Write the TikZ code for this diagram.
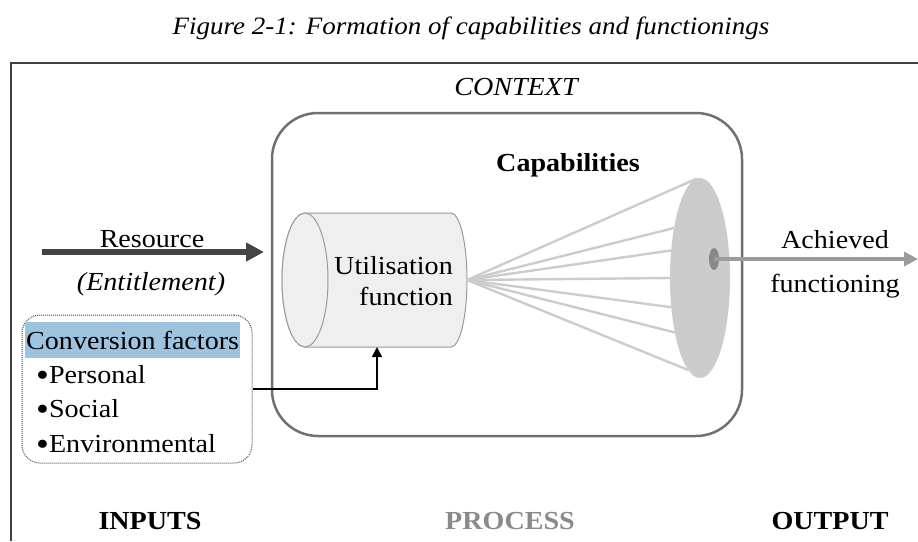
\documentclass[tikz,border=0pt]{standalone}
\usepackage{fontspec}
\setmainfont{Liberation Serif}[FakeStretch=1.08]
\usetikzlibrary{arrows.meta,shapes.geometric,calc}
\definecolor{framecol}{HTML}{404040}
\definecolor{ctxcol}{HTML}{707070}
\definecolor{cylfill}{HTML}{EFEFEF}
\definecolor{cylline}{HTML}{9A9A9A}
\definecolor{conecol}{HTML}{CCCCCC}
\definecolor{dotcol}{HTML}{888888}
\definecolor{outcol}{HTML}{9C9C9C}
\definecolor{rescol}{HTML}{444444}
\definecolor{hlcol}{HTML}{9DC3DE}
\definecolor{proccol}{HTML}{8A8A8A}
\newcommand{\bigbul}{\raisebox{-3.5pt}{\fontsize{34}{34}\selectfont\textbullet}}
\begin{document}
\begin{tikzpicture}[x=1pt,y=1pt,
  txt/.style={inner sep=0pt,font=\fontsize{26}{31}\selectfont},
  itxt/.style={txt,font=\fontsize{26}{31}\selectfont\itshape},
  btxt/.style={txt,font=\fontsize{26}{31}\selectfont\bfseries},
  ray/.style={draw=conecol,line width=2.4pt},
  cyl/.style={draw=cylline,fill=cylfill,line width=1pt}]
\useasboundingbox (0,0) rectangle (918,-541);
% title
\node[txt,font=\fontsize{25}{29}\selectfont\itshape] (title) at (471,-28) {Figure 2-1: Formation of capabilities and functionings};
% frame
\draw[framecol,line width=2pt] (11,-541) -- (11,-63) -- (918,-63);
\node[itxt] (context) at (516,-87) {CONTEXT};
% context box
\node[draw=ctxcol,line width=2.5pt,rounded corners=46pt,minimum width=470pt,minimum height=323pt,inner sep=0pt] (ctx) at (507,-274.5) {};
\node[btxt] (capab) at (568,-165) {Capabilities};
% cylinder
\filldraw[cyl] (305,-213) -- (451,-213) arc[start angle=90,end angle=-90,x radius=16pt,y radius=67pt] -- (305,-347) arc[start angle=270,end angle=90,x radius=23pt,y radius=67pt] -- cycle;
\draw[cyl] (305,-280) ellipse[x radius=23pt,y radius=67pt];
\coordinate (apex) at (467,-280);
\coordinate (cylbot) at (377,-347);
\node[txt,align=right,anchor=east] (util) at (453,-281) {Utilisation\\function};
% cone
\coordinate (conec) at (700,-278);
\foreach \a in {96,150,164,180,197,213,247}
  \draw[ray] (apex) -- ([shift={(\a:30 and 100)}]conec);
\node[ellipse,fill=conecol,minimum width=60pt,minimum height=200pt,inner sep=0pt] (cone) at (conec) {};
\node[ellipse,fill=dotcol,minimum width=10pt,minimum height=22pt,inner sep=0pt] (dot) at (714,-259) {};
\coordinate (outend) at (918,-259);
\draw[outcol,line width=4pt,-{Triangle[length=14pt,width=14pt]}] (dot.center) -- (outend);
\node[txt] (ach) at (835,-240) {Achieved};
\node[txt] (func) at (835,-286) {functioning};
% resource arrow
\coordinate (resL) at (42,-252);
\coordinate (resR) at (264,-252);
\draw[rescol,line width=6pt,-{Triangle[length=18pt,width=18pt]}] (resL) -- (resR);
\node[txt] (res) at (152,-239) {Resource};
\node[itxt] (ent) at (151,-284) {(Entitlement)};
% conversion factors
\node[draw=black!70,densely dotted,line width=1pt,rounded corners=18pt,minimum width=230pt,minimum height=148pt,inner sep=0pt] (cf) at (137,-389) {};
\fill[hlcol] (25,-322) rectangle (240,-358);
\node[txt,anchor=west] (cft) at (26,-340) {Conversion factors};
\node[txt,anchor=base west] (b1) at (36,-383) {\bigbul Personal};
\node[txt,anchor=base west] (b2) at (36,-417) {\bigbul Social};
\node[txt,anchor=base west] (b3) at (36,-452) {\bigbul Environmental};
\draw[black,line width=1.6pt,-{Triangle[length=10pt,width=10pt]}] (cf.east) -| (cylbot);
% bottom labels
\node[btxt] (inp) at (150,-521) {INPUTS};
\node[btxt,text=proccol] (proc) at (510,-521) {PROCESS};
\node[btxt] (outp) at (830,-521) {OUTPUT};
\end{tikzpicture}
\end{document}
